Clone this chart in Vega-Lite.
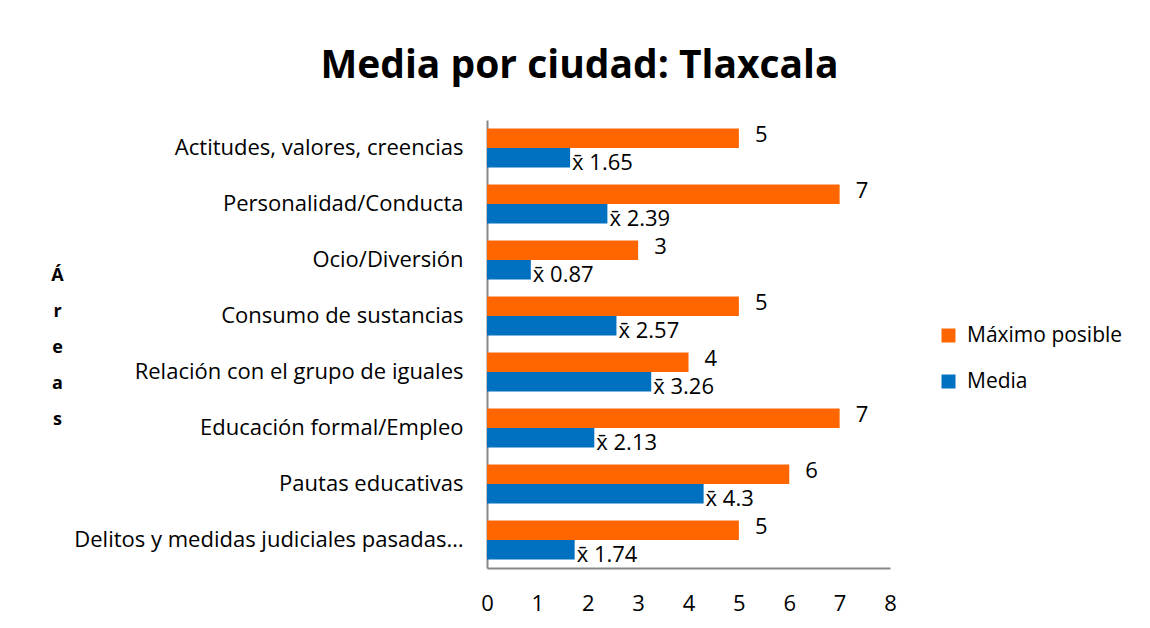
{
  "$schema": "https://vega.github.io/schema/vega-lite/v6.json",
  "width": 403,
  "height": 448,
  "autosize": {"type": "none"},
  "padding": {"left": 487, "top": 120, "right": 260, "bottom": 60},
  "background": "white",
  "title": {"text": "Media por ciudad: Tlaxcala", "font": "Open Sans", "fontSize": 39, "fontWeight": "bold", "color": "#000000", "anchor": "middle", "dx": -109, "offset": 34},
  "data": {"values": [
    {"area": "Actitudes, valores, creencias", "serie": "Máximo posible", "valor": 5},
    {"area": "Actitudes, valores, creencias", "serie": "Media", "valor": 1.65},
    {"area": "Personalidad/Conducta", "serie": "Máximo posible", "valor": 7},
    {"area": "Personalidad/Conducta", "serie": "Media", "valor": 2.39},
    {"area": "Ocio/Diversión", "serie": "Máximo posible", "valor": 3},
    {"area": "Ocio/Diversión", "serie": "Media", "valor": 0.87},
    {"area": "Consumo de sustancias", "serie": "Máximo posible", "valor": 5},
    {"area": "Consumo de sustancias", "serie": "Media", "valor": 2.57},
    {"area": "Relación con el grupo de iguales", "serie": "Máximo posible", "valor": 4},
    {"area": "Relación con el grupo de iguales", "serie": "Media", "valor": 3.26},
    {"area": "Educación formal/Empleo", "serie": "Máximo posible", "valor": 7},
    {"area": "Educación formal/Empleo", "serie": "Media", "valor": 2.13},
    {"area": "Pautas educativas", "serie": "Máximo posible", "valor": 6},
    {"area": "Pautas educativas", "serie": "Media", "valor": 4.3},
    {"area": "Delitos y medidas judiciales pasadas…", "serie": "Máximo posible", "valor": 5},
    {"area": "Delitos y medidas judiciales pasadas…", "serie": "Media", "valor": 1.74}
  ]},
  "transform": [
    {"calculate": "datum.serie == 'Media' ? 'x\u0304  ' + datum.valor : '' + datum.valor", "as": "etiqueta"}
  ],
  "encoding": {
    "y": {
      "field": "area", "type": "nominal", "sort": null,
      "scale": {"paddingInner": 0.3, "paddingOuter": 0.15},
      "axis": {
        "title": ["Á", "r", "e", "a", "s"],
        "titleAngle": 0, "titleFont": "Open Sans", "titleFontWeight": "bold", "titleFontSize": 18,
        "titleLineHeight": 36, "titleX": -430, "titleY": 155, "titleAlign": "center", "titleBaseline": "middle",
        "titleColor": "#000000",
        "labelFont": "Open Sans", "labelFontSize": 22, "labelColor": "#000000", "labelPadding": 24,
        "labelLimit": 500, "ticks": false, "domainColor": "#888888", "domainWidth": 2
      }
    },
    "yOffset": {"field": "serie", "type": "nominal", "sort": ["Máximo posible", "Media"], "scale": {"paddingInner": 0, "paddingOuter": 0}},
    "x": {
      "field": "valor", "type": "quantitative",
      "scale": {"domain": [0, 8], "nice": false},
      "axis": {
        "title": null, "values": [0, 1, 2, 3, 4, 5, 6, 7, 8], "grid": false, "ticks": false,
        "labelPadding": 25, "labelFont": "Open Sans", "labelFontSize": 22, "labelColor": "#000000",
        "labelFlush": false, "domainColor": "#888888", "domainWidth": 2
      }
    }
  },
  "layer": [
    {
      "mark": {"type": "bar"},
      "encoding": {
        "color": {
          "field": "serie", "type": "nominal",
          "scale": {"domain": ["Máximo posible", "Media"], "range": ["#FF6600", "#0070C0"]},
          "legend": {
            "title": null, "orient": "none", "legendX": 451, "legendY": 205,
            "symbolType": "square", "symbolSize": 196, "symbolStrokeWidth": 0,
            "labelFont": "Open Sans", "labelFontSize": 21, "labelColor": "#000000",
            "labelOffset": 8, "rowPadding": 24, "labelLimit": 300
          }
        }
      }
    },
    {
      "transform": [{"filter": "datum.serie == 'Máximo posible'"}],
      "mark": {"type": "text", "align": "left", "baseline": "middle", "dx": 16, "dy": -3, "fontSize": 22, "font": "Open Sans", "color": "#000000"},
      "encoding": {"text": {"field": "etiqueta"}}
    },
    {
      "transform": [{"filter": "datum.serie == 'Media'"}],
      "mark": {"type": "text", "align": "left", "baseline": "middle", "dx": 2, "dy": 5, "fontSize": 22, "font": "Open Sans", "color": "#000000"},
      "encoding": {"text": {"field": "etiqueta"}}
    }
  ],
  "config": {"view": {"stroke": null}}
}
